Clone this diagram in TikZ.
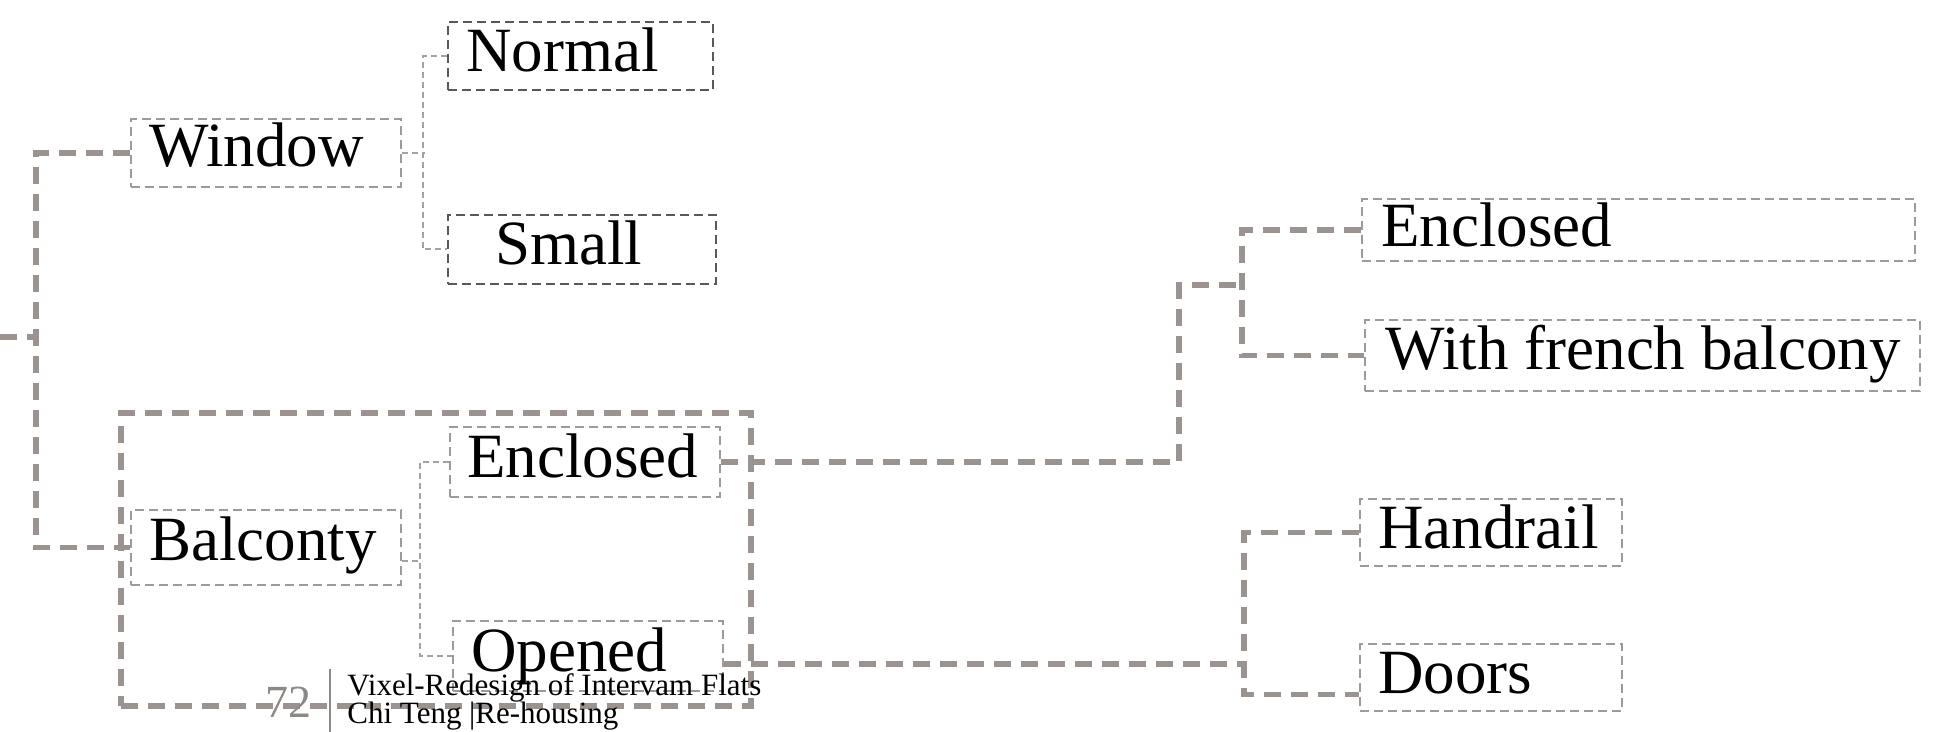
\documentclass[tikz,border=0pt]{standalone}
\usepackage{fontspec}
\setmainfont{Liberation Serif}
\usetikzlibrary{fit,calc}
\definecolor{thickgray}{RGB}{155,147,143}
\definecolor{boxgray}{RGB}{160,154,150}
\definecolor{darkbox}{RGB}{90,88,88}
\definecolor{thingray}{RGB}{168,162,158}
\definecolor{numgray}{RGB}{140,136,134}
\tikzset{
  conn/.style={draw=thickgray, line width=2.8pt, dash pattern=on 8.5pt off 5pt},
  tconn/.style={draw=thingray, line width=1pt, dash pattern=on 3pt off 2pt},
  box/.style={draw=boxgray, line width=1.2pt, dash pattern=on 4.5pt off 2.5pt, inner sep=0pt, rectangle},
  dbox/.style={box, draw=darkbox},
  frame/.style={draw=thickgray, line width=2.8pt, dash pattern=on 8.5pt off 5pt, inner sep=0pt, rectangle},
  lbl/.style={anchor=base west, inner sep=0pt, font=\fontsize{31.5}{36}\selectfont},
  foot/.style={anchor=base west, inner sep=0pt, font=\fontsize{15.5}{18}\selectfont},
}
\begin{document}
\begin{tikzpicture}[x=0.5pt, y=-0.5pt]
\useasboundingbox (0,0) rectangle (1942,732);
% boxes
\node[box, fit={(131,119)(401,187)}] (win) {};
\node[dbox, fit={(448,22)(713,90)}] (nor) {};
\node[dbox, fit={(448,215)(716,284)}] (sma) {};
\node[frame, fit={(121,413)(751,706)}] (grp) {};
\node[box, fit={(131,510)(401,585)}] (bal) {};
\node[box, fit={(450,427)(720,497)}] (enc) {};
\node[box, fit={(453,621)(723,691)}] (ope) {};
\node[box, fit={(1362,199)(1915,261)}] (enc2) {};
\node[box, fit={(1365,320)(1920,391)}] (fre) {};
\node[box, fit={(1360,499)(1622,566)}] (han) {};
\node[box, fit={(1360,644)(1622,711)}] (doo) {};
% labels
\node[lbl] (winT) at (149,167) {Window};
\node[lbl] (norT) at (466,72) {Normal};
\node[lbl] (smaT) at (495,265) {Small};
\node[lbl] (balT) at (149,560) {Balconty};
\node[lbl] (encT) at (467,477) {Enclosed};
\node[lbl] (opeT) at (471,671) {Opened};
\node[lbl] (enc2T) at (1381,247) {Enclosed};
\node[lbl] (freT) at (1385,370) {With french balcony};
\node[lbl] (hanT) at (1378,548) {Handrail};
\node[lbl] (dooT) at (1378,693) {Doors};
% root connectors
\coordinate (root) at (0,337);
\draw[conn] (root) -- (37,337);
\draw[conn] (win.west) -- ++(-94,0) |- (bal.west);
% window children
\draw[tconn] (win.east) -- ++(23,0);
\draw[tconn] (nor.west) -- ++(-24,0) |- (sma.west);
% balcony children
\draw[tconn] ($(bal.east)+(0,13)$) -- ++(20,0);
\draw[tconn] (enc.west) -- ++(-29,0) |- (ope.west);
% enclosed branch
\draw[conn] (enc.east) -| (1179,285) -- (1243,285);
\draw[conn] (enc2.west) -- ++(-119,0) |- (fre.west);
% opened branch
\draw[conn] ($(ope.east)+(0,8)$) -- (1245,664);
\draw[conn] (han.west) -- ++(-115,0) |- ($(doo.west)+(0,17)$);
% footer
\node[anchor=base east, inner sep=0pt, text=numgray, font=\fontsize{23}{24}\selectfont] (pg) at (312,717) {72};
\coordinate (barT) at (330,669);
\coordinate (barB) at (330,732);
\draw[numgray, line width=0.8pt] (barT) -- (barB);
\node[foot] (f1) at (347,695) {Vixel-Redesign of Intervam Flats};
\node[foot] (f2) at (347,723) {Chi Teng |Re-housing};
\end{tikzpicture}
\end{document}
